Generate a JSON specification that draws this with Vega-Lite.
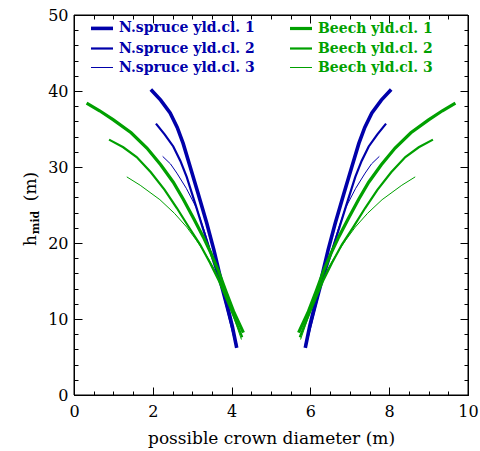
{
"$schema": "https://vega.github.io/schema/vega-lite/v6.json",
"width": 394, "height": 380,
"autosize": {"type": "none"},
"padding": {"left": 74, "top": 15, "right": 12, "bottom": 56},
"background": "white",
"config": {"view": {"stroke": "black", "strokeWidth": 1},
 "axis": {"grid": false, "domain": false, "tickColor": "black", "labelColor": "black", "titleColor": "black", "labelFont": "DejaVu Serif", "titleFont": "DejaVu Serif", "labelFontSize": 16, "titleFontSize": 17, "titleFontWeight": "normal", "labelOverlap": false, "labelFlush": false, "tickWidth": 1}},
"data": {"values": [
{"s":"N.spruce yld.cl. 1","side":"L","x":1.95,"y":40.2},{"s":"N.spruce yld.cl. 1","side":"L","x":2.2,"y":38.8},{"s":"N.spruce yld.cl. 1","side":"L","x":2.44,"y":37.1},{"s":"N.spruce yld.cl. 1","side":"L","x":2.62,"y":35.2},{"s":"N.spruce yld.cl. 1","side":"L","x":2.77,"y":33.1},{"s":"N.spruce yld.cl. 1","side":"L","x":2.95,"y":30.0},{"s":"N.spruce yld.cl. 1","side":"L","x":3.15,"y":26.5},{"s":"N.spruce yld.cl. 1","side":"L","x":3.37,"y":22.6},{"s":"N.spruce yld.cl. 1","side":"L","x":3.55,"y":19.1},{"s":"N.spruce yld.cl. 1","side":"L","x":3.71,"y":15.6},{"s":"N.spruce yld.cl. 1","side":"L","x":3.88,"y":12.0},{"s":"N.spruce yld.cl. 1","side":"L","x":4.02,"y":9.0},{"s":"N.spruce yld.cl. 1","side":"L","x":4.13,"y":6.2},
{"s":"N.spruce yld.cl. 1","side":"R","x":8.05,"y":40.2},{"s":"N.spruce yld.cl. 1","side":"R","x":7.8,"y":38.8},{"s":"N.spruce yld.cl. 1","side":"R","x":7.56,"y":37.1},{"s":"N.spruce yld.cl. 1","side":"R","x":7.38,"y":35.2},{"s":"N.spruce yld.cl. 1","side":"R","x":7.23,"y":33.1},{"s":"N.spruce yld.cl. 1","side":"R","x":7.05,"y":30.0},{"s":"N.spruce yld.cl. 1","side":"R","x":6.85,"y":26.5},{"s":"N.spruce yld.cl. 1","side":"R","x":6.63,"y":22.6},{"s":"N.spruce yld.cl. 1","side":"R","x":6.45,"y":19.1},{"s":"N.spruce yld.cl. 1","side":"R","x":6.29,"y":15.6},{"s":"N.spruce yld.cl. 1","side":"R","x":6.12,"y":12.0},{"s":"N.spruce yld.cl. 1","side":"R","x":5.98,"y":9.0},{"s":"N.spruce yld.cl. 1","side":"R","x":5.87,"y":6.2},
{"s":"N.spruce yld.cl. 2","side":"L","x":2.08,"y":35.7},{"s":"N.spruce yld.cl. 2","side":"L","x":2.3,"y":34.3},{"s":"N.spruce yld.cl. 2","side":"L","x":2.52,"y":32.7},{"s":"N.spruce yld.cl. 2","side":"L","x":2.7,"y":30.8},{"s":"N.spruce yld.cl. 2","side":"L","x":2.86,"y":28.7},{"s":"N.spruce yld.cl. 2","side":"L","x":3.05,"y":25.6},{"s":"N.spruce yld.cl. 2","side":"L","x":3.28,"y":21.8},{"s":"N.spruce yld.cl. 2","side":"L","x":3.5,"y":18.2},{"s":"N.spruce yld.cl. 2","side":"L","x":3.7,"y":14.9},{"s":"N.spruce yld.cl. 2","side":"L","x":3.88,"y":11.4},{"s":"N.spruce yld.cl. 2","side":"L","x":4.03,"y":8.4},{"s":"N.spruce yld.cl. 2","side":"L","x":4.12,"y":6.6},
{"s":"N.spruce yld.cl. 2","side":"R","x":7.92,"y":35.7},{"s":"N.spruce yld.cl. 2","side":"R","x":7.7,"y":34.3},{"s":"N.spruce yld.cl. 2","side":"R","x":7.48,"y":32.7},{"s":"N.spruce yld.cl. 2","side":"R","x":7.3,"y":30.8},{"s":"N.spruce yld.cl. 2","side":"R","x":7.14,"y":28.7},{"s":"N.spruce yld.cl. 2","side":"R","x":6.95,"y":25.6},{"s":"N.spruce yld.cl. 2","side":"R","x":6.72,"y":21.8},{"s":"N.spruce yld.cl. 2","side":"R","x":6.5,"y":18.2},{"s":"N.spruce yld.cl. 2","side":"R","x":6.3,"y":14.9},{"s":"N.spruce yld.cl. 2","side":"R","x":6.12,"y":11.4},{"s":"N.spruce yld.cl. 2","side":"R","x":5.97,"y":8.4},{"s":"N.spruce yld.cl. 2","side":"R","x":5.88,"y":6.6},
{"s":"N.spruce yld.cl. 3","side":"L","x":2.25,"y":31.4},{"s":"N.spruce yld.cl. 3","side":"L","x":2.45,"y":30.4},{"s":"N.spruce yld.cl. 3","side":"L","x":2.61,"y":29.2},{"s":"N.spruce yld.cl. 3","side":"L","x":2.85,"y":27.2},{"s":"N.spruce yld.cl. 3","side":"L","x":3.11,"y":24.6},{"s":"N.spruce yld.cl. 3","side":"L","x":3.3,"y":21.7},{"s":"N.spruce yld.cl. 3","side":"L","x":3.5,"y":18.4},{"s":"N.spruce yld.cl. 3","side":"L","x":3.7,"y":15.0},{"s":"N.spruce yld.cl. 3","side":"L","x":3.88,"y":11.6},{"s":"N.spruce yld.cl. 3","side":"L","x":4.02,"y":8.8},{"s":"N.spruce yld.cl. 3","side":"L","x":4.1,"y":7.0},
{"s":"N.spruce yld.cl. 3","side":"R","x":7.75,"y":31.4},{"s":"N.spruce yld.cl. 3","side":"R","x":7.55,"y":30.4},{"s":"N.spruce yld.cl. 3","side":"R","x":7.39,"y":29.2},{"s":"N.spruce yld.cl. 3","side":"R","x":7.15,"y":27.2},{"s":"N.spruce yld.cl. 3","side":"R","x":6.89,"y":24.6},{"s":"N.spruce yld.cl. 3","side":"R","x":6.7,"y":21.7},{"s":"N.spruce yld.cl. 3","side":"R","x":6.5,"y":18.4},{"s":"N.spruce yld.cl. 3","side":"R","x":6.3,"y":15.0},{"s":"N.spruce yld.cl. 3","side":"R","x":6.12,"y":11.6},{"s":"N.spruce yld.cl. 3","side":"R","x":5.98,"y":8.8},{"s":"N.spruce yld.cl. 3","side":"R","x":5.9,"y":7.0},
{"s":"Beech yld.cl. 1","side":"L","x":0.32,"y":38.4},{"s":"Beech yld.cl. 1","side":"L","x":0.65,"y":37.4},{"s":"Beech yld.cl. 1","side":"L","x":1.0,"y":36.2},{"s":"Beech yld.cl. 1","side":"L","x":1.45,"y":34.5},{"s":"Beech yld.cl. 1","side":"L","x":1.85,"y":32.5},{"s":"Beech yld.cl. 1","side":"L","x":2.2,"y":30.3},{"s":"Beech yld.cl. 1","side":"L","x":2.52,"y":28.0},{"s":"Beech yld.cl. 1","side":"L","x":2.77,"y":25.8},{"s":"Beech yld.cl. 1","side":"L","x":3.03,"y":23.3},{"s":"Beech yld.cl. 1","side":"L","x":3.28,"y":20.8},{"s":"Beech yld.cl. 1","side":"L","x":3.48,"y":18.6},{"s":"Beech yld.cl. 1","side":"L","x":3.66,"y":16.4},{"s":"Beech yld.cl. 1","side":"L","x":3.85,"y":13.7},{"s":"Beech yld.cl. 1","side":"L","x":4.05,"y":11.0},{"s":"Beech yld.cl. 1","side":"L","x":4.3,"y":8.2},
{"s":"Beech yld.cl. 1","side":"R","x":9.68,"y":38.4},{"s":"Beech yld.cl. 1","side":"R","x":9.35,"y":37.4},{"s":"Beech yld.cl. 1","side":"R","x":9.0,"y":36.2},{"s":"Beech yld.cl. 1","side":"R","x":8.55,"y":34.5},{"s":"Beech yld.cl. 1","side":"R","x":8.15,"y":32.5},{"s":"Beech yld.cl. 1","side":"R","x":7.8,"y":30.3},{"s":"Beech yld.cl. 1","side":"R","x":7.48,"y":28.0},{"s":"Beech yld.cl. 1","side":"R","x":7.23,"y":25.8},{"s":"Beech yld.cl. 1","side":"R","x":6.97,"y":23.3},{"s":"Beech yld.cl. 1","side":"R","x":6.72,"y":20.8},{"s":"Beech yld.cl. 1","side":"R","x":6.52,"y":18.6},{"s":"Beech yld.cl. 1","side":"R","x":6.34,"y":16.4},{"s":"Beech yld.cl. 1","side":"R","x":6.15,"y":13.7},{"s":"Beech yld.cl. 1","side":"R","x":5.95,"y":11.0},{"s":"Beech yld.cl. 1","side":"R","x":5.7,"y":8.2},
{"s":"Beech yld.cl. 2","side":"L","x":0.89,"y":33.6},{"s":"Beech yld.cl. 2","side":"L","x":1.25,"y":32.6},{"s":"Beech yld.cl. 2","side":"L","x":1.59,"y":31.3},{"s":"Beech yld.cl. 2","side":"L","x":1.95,"y":29.3},{"s":"Beech yld.cl. 2","side":"L","x":2.3,"y":27.0},{"s":"Beech yld.cl. 2","side":"L","x":2.61,"y":24.6},{"s":"Beech yld.cl. 2","side":"L","x":2.9,"y":22.2},{"s":"Beech yld.cl. 2","side":"L","x":3.2,"y":19.8},{"s":"Beech yld.cl. 2","side":"L","x":3.45,"y":17.4},{"s":"Beech yld.cl. 2","side":"L","x":3.68,"y":15.0},{"s":"Beech yld.cl. 2","side":"L","x":3.9,"y":12.3},{"s":"Beech yld.cl. 2","side":"L","x":4.1,"y":9.8},{"s":"Beech yld.cl. 2","side":"L","x":4.27,"y":7.6},
{"s":"Beech yld.cl. 2","side":"R","x":9.11,"y":33.6},{"s":"Beech yld.cl. 2","side":"R","x":8.75,"y":32.6},{"s":"Beech yld.cl. 2","side":"R","x":8.41,"y":31.3},{"s":"Beech yld.cl. 2","side":"R","x":8.05,"y":29.3},{"s":"Beech yld.cl. 2","side":"R","x":7.7,"y":27.0},{"s":"Beech yld.cl. 2","side":"R","x":7.39,"y":24.6},{"s":"Beech yld.cl. 2","side":"R","x":7.1,"y":22.2},{"s":"Beech yld.cl. 2","side":"R","x":6.8,"y":19.8},{"s":"Beech yld.cl. 2","side":"R","x":6.55,"y":17.4},{"s":"Beech yld.cl. 2","side":"R","x":6.32,"y":15.0},{"s":"Beech yld.cl. 2","side":"R","x":6.1,"y":12.3},{"s":"Beech yld.cl. 2","side":"R","x":5.9,"y":9.8},{"s":"Beech yld.cl. 2","side":"R","x":5.73,"y":7.6},
{"s":"Beech yld.cl. 3","side":"L","x":1.34,"y":28.7},{"s":"Beech yld.cl. 3","side":"L","x":1.68,"y":27.6},{"s":"Beech yld.cl. 3","side":"L","x":2.18,"y":25.7},{"s":"Beech yld.cl. 3","side":"L","x":2.55,"y":23.9},{"s":"Beech yld.cl. 3","side":"L","x":2.86,"y":22.1},{"s":"Beech yld.cl. 3","side":"L","x":3.1,"y":20.4},{"s":"Beech yld.cl. 3","side":"L","x":3.28,"y":19.0},{"s":"Beech yld.cl. 3","side":"L","x":3.45,"y":17.6},{"s":"Beech yld.cl. 3","side":"L","x":3.62,"y":16.0},{"s":"Beech yld.cl. 3","side":"L","x":3.8,"y":13.8},{"s":"Beech yld.cl. 3","side":"L","x":3.98,"y":11.3},{"s":"Beech yld.cl. 3","side":"L","x":4.13,"y":9.1},{"s":"Beech yld.cl. 3","side":"L","x":4.25,"y":7.3},
{"s":"Beech yld.cl. 3","side":"R","x":8.66,"y":28.7},{"s":"Beech yld.cl. 3","side":"R","x":8.32,"y":27.6},{"s":"Beech yld.cl. 3","side":"R","x":7.82,"y":25.7},{"s":"Beech yld.cl. 3","side":"R","x":7.45,"y":23.9},{"s":"Beech yld.cl. 3","side":"R","x":7.14,"y":22.1},{"s":"Beech yld.cl. 3","side":"R","x":6.9,"y":20.4},{"s":"Beech yld.cl. 3","side":"R","x":6.72,"y":19.0},{"s":"Beech yld.cl. 3","side":"R","x":6.55,"y":17.6},{"s":"Beech yld.cl. 3","side":"R","x":6.38,"y":16.0},{"s":"Beech yld.cl. 3","side":"R","x":6.2,"y":13.8},{"s":"Beech yld.cl. 3","side":"R","x":6.02,"y":11.3},{"s":"Beech yld.cl. 3","side":"R","x":5.87,"y":9.1},{"s":"Beech yld.cl. 3","side":"R","x":5.75,"y":7.3}
]},
"layer": [
 {"mark": {"type": "line"},
  "encoding": {
   "x": {"field": "x", "type": "quantitative", "scale": {"domain": [0, 10], "nice": false},
     "axis": {"orient": "bottom", "tickCount": 5, "ticks": false, "offset": 6,
       "title": "possible crown diameter (m)", "titleBaseline": "alphabetic", "titleY": 42}},
   "y": {"field": "y", "type": "quantitative", "scale": {"domain": [0, 50], "nice": false},
     "axis": {"orient": "left", "tickCount": 5, "ticks": false, "offset": 4,
       "title": "h", "titleBaseline": "alphabetic", "titleAlign": "center", "titleAngle": -90, "titleX": -35, "titleY": 225}},
   "color": {"field": "s", "type": "nominal",
     "scale": {"domain": ["N.spruce yld.cl. 1", "N.spruce yld.cl. 2", "N.spruce yld.cl. 3", "Beech yld.cl. 1", "Beech yld.cl. 2", "Beech yld.cl. 3"],
       "range": ["#0000aa", "#0000aa", "#0000aa", "#00a000", "#00a000", "#00a000"]},
     "legend": {"orient": "none", "legendX": 15, "legendY": 0, "columns": 2, "direction": "vertical", "title": null,
       "symbolType": "stroke", "symbolSize": 484, "labelFont": "DejaVu Serif", "labelFontSize": 14, "labelFontWeight": "bold", "labelOffset": 4,
       "columnPadding": 28, "rowPadding": -2.5, "padding": 0,
       "encode": {"labels": {"update": {"fill": {"scale": "color", "field": "value"}}}}}},
   "strokeWidth": {"field": "s", "type": "nominal",
     "scale": {"type": "ordinal", "domain": ["N.spruce yld.cl. 1", "N.spruce yld.cl. 2", "N.spruce yld.cl. 3", "Beech yld.cl. 1", "Beech yld.cl. 2", "Beech yld.cl. 3"],
       "range": [3.6, 2.2, 1, 3.2, 2.2, 1]},
     "legend": {"orient": "none", "legendX": 15, "legendY": 0, "columns": 2, "direction": "vertical", "title": null,
       "symbolType": "stroke", "symbolSize": 484, "labelFont": "DejaVu Serif", "labelFontSize": 14, "labelFontWeight": "bold", "labelOffset": 4,
       "columnPadding": 28, "rowPadding": -2.5, "padding": 0,
       "encode": {"labels": {"update": {"fill": {"scale": "color", "field": "value"}}}}}},
   "detail": {"field": "side", "type": "nominal"}
  }},
 {"mark": {"type": "point", "opacity": 0},
  "encoding": {
   "x": {"field": "x", "type": "quantitative",
     "axis": {"orient": "bottom", "tickCount": 5, "tickSize": -8, "labels": false, "title": null}},
   "y": {"field": "y", "type": "quantitative",
     "axis": {"orient": "left", "tickCount": 5, "tickSize": -8, "labels": false,
       "title": "mid", "titleFontSize": 11, "titleFontWeight": "bold", "titleBaseline": "alphabetic", "titleAlign": "center", "titleAngle": -90, "titleX": -36, "titleY": 207}}
  }},
 {"mark": {"type": "point", "opacity": 0},
  "encoding": {
   "x": {"field": "x", "type": "quantitative",
     "axis": {"orient": "bottom", "tickCount": 20, "tickSize": -4, "labels": false, "title": null}},
   "y": {"field": "y", "type": "quantitative",
     "axis": {"orient": "left", "tickCount": 25, "tickSize": -4, "labels": false,
       "title": "(m)", "titleBaseline": "alphabetic", "titleAlign": "center", "titleAngle": -90, "titleX": -39, "titleY": 171}}
  }},
 {"mark": {"type": "point", "opacity": 0},
  "encoding": {
   "x": {"field": "x", "type": "quantitative",
     "axis": {"orient": "top", "tickCount": 5, "tickSize": -8, "labels": false, "title": null}},
   "y": {"field": "y", "type": "quantitative",
     "axis": {"orient": "right", "tickCount": 5, "tickSize": -8, "labels": false, "title": null}}
  }},
 {"mark": {"type": "point", "opacity": 0},
  "encoding": {
   "x": {"field": "x", "type": "quantitative",
     "axis": {"orient": "top", "tickCount": 20, "tickSize": -4, "labels": false, "title": null}},
   "y": {"field": "y", "type": "quantitative",
     "axis": {"orient": "right", "tickCount": 25, "tickSize": -4, "labels": false, "title": null}}
  }},
 {"data": {"values": [{}]},
  "mark": {"type": "rect", "fill": null, "stroke": "black", "strokeWidth": 1},
  "encoding": {
   "x": {"datum": 0, "type": "quantitative", "axis": null},
   "x2": {"datum": 10},
   "y": {"datum": 0, "type": "quantitative", "axis": null},
   "y2": {"datum": 50}
  }}
],
"resolve": {"axis": {"x": "independent", "y": "independent"}}
}
